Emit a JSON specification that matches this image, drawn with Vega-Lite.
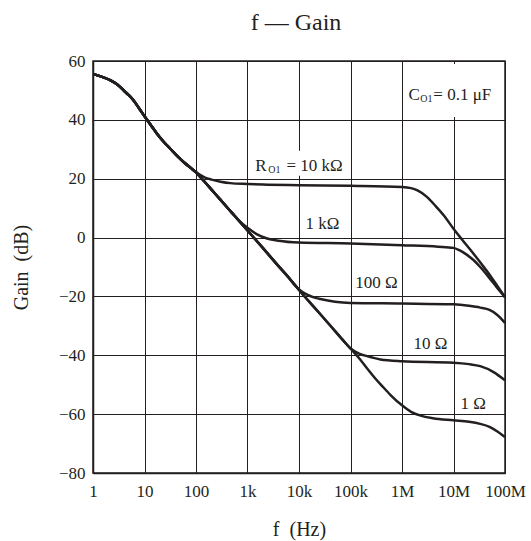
{
  "$schema": "https://vega.github.io/schema/vega-lite/v6.json",
  "width": 412,
  "height": 412,
  "autosize": {"type": "none"},
  "padding": {"left": 93, "top": 61, "right": 26, "bottom": 68},
  "background": "white",
  "config": {
    "view": {"stroke": "#231f20", "strokeWidth": 1.5},
    "font": "Liberation Serif",
    "axis": {
      "labelFont": "Liberation Serif",
      "titleFont": "Liberation Serif",
      "labelColor": "#231f20",
      "titleColor": "#231f20",
      "titleFontWeight": "normal",
      "grid": true,
      "gridColor": "#231f20",
      "gridOpacity": 1,
      "gridWidth": 1,
      "domainColor": "#231f20",
      "domainWidth": 1.5,
      "ticks": false,
      "tickSize": 0,
      "labelOverlap": false,
      "labelBound": false,
      "labelFlush": false
    }
  },
  "title": {
    "text": "f — Gain",
    "font": "Liberation Serif",
    "fontSize": 24,
    "fontWeight": "normal",
    "color": "#231f20",
    "offset": 17,
    "dx": -3
  },
  "encoding": {
    "x": {
      "field": "f",
      "type": "quantitative",
      "scale": {"type": "log", "domain": [1, 100000000], "nice": false},
      "axis": {
        "values": [1, 10, 100, 1000, 10000, 100000, 1000000, 10000000, 100000000],
        "labelExpr": "datum.value >= 1e6 ? (datum.value / 1e6) + 'M' : datum.value >= 1e3 ? (datum.value / 1e3) + 'k' : datum.value + ''",
        "labelFontSize": 17,
        "labelPadding": 10,
        "title": "f\u00a0\u00a0(Hz)",
        "titleFontSize": 20,
        "titlePadding": 20
      }
    },
    "y": {
      "field": "g",
      "type": "quantitative",
      "scale": {"domain": [-80, 60], "nice": false, "zero": false},
      "axis": {
        "values": [-80, -60, -40, -20, 0, 20, 40, 60],
        "labelFontSize": 17,
        "labelPadding": 8,
        "title": "Gain\u00a0\u00a0(dB)",
        "titleFontSize": 20,
        "titlePadding": 27
      }
    }
  },
  "layer": [
    {
      "data": {"values": [
        {"f": 1350, "f2": 70000, "g": 21, "g2": 29.5},
        {"f": 1300000, "f2": 90000000, "g": 41, "g2": 59}
      ]},
      "mark": {"type": "rect", "fill": "white", "stroke": null},
      "encoding": {"x2": {"field": "f2"}, "y2": {"field": "g2"}}
    },
    {
      "data": {"values": [
        {"s": "10k", "f": 1, "g": 55.6}, {"s": "10k", "f": 1.5, "g": 54.6}, {"s": "10k", "f": 2.2, "g": 53.4}, {"s": "10k", "f": 3, "g": 51.9}, {"s": "10k", "f": 4, "g": 49.9}, {"s": "10k", "f": 5, "g": 48.3}, {"s": "10k", "f": 6.2, "g": 46.5}, {"s": "10k", "f": 8, "g": 43.7}, {"s": "10k", "f": 10, "g": 41.2}, {"s": "10k", "f": 13, "g": 38.4}, {"s": "10k", "f": 17.5, "g": 35.3}, {"s": "10k", "f": 24, "g": 32.4}, {"s": "10k", "f": 32, "g": 30.1}, {"s": "10k", "f": 45, "g": 27.4}, {"s": "10k", "f": 58, "g": 25.6}, {"s": "10k", "f": 80, "g": 23.6}, {"s": "10k", "f": 100, "g": 22.2},
        {"s": "10k", "f": 120, "g": 21.3}, {"s": "10k", "f": 150, "g": 20.4}, {"s": "10k", "f": 200, "g": 19.7}, {"s": "10k", "f": 300, "g": 19.0}, {"s": "10k", "f": 464, "g": 18.5}, {"s": "10k", "f": 1000, "g": 18.2}, {"s": "10k", "f": 2000, "g": 18.0}, {"s": "10k", "f": 10000, "g": 17.8}, {"s": "10k", "f": 100000, "g": 17.6}, {"s": "10k", "f": 1000000, "g": 17.2}, {"s": "10k", "f": 1500000, "g": 16.8}, {"s": "10k", "f": 2000000, "g": 16.0}, {"s": "10k", "f": 3000000, "g": 13.9}, {"s": "10k", "f": 4500000, "g": 10.7}, {"s": "10k", "f": 6500000, "g": 7.5}, {"s": "10k", "f": 10000000, "g": 3.0}, {"s": "10k", "f": 15000000, "g": -0.9}, {"s": "10k", "f": 24500000, "g": -5.5}, {"s": "10k", "f": 35000000, "g": -9.0}, {"s": "10k", "f": 51000000, "g": -12.8}, {"s": "10k", "f": 70000000, "g": -16.3}, {"s": "10k", "f": 100000000, "g": -20.3},

        {"s": "1k", "f": 1, "g": 55.6}, {"s": "1k", "f": 1.5, "g": 54.6}, {"s": "1k", "f": 2.2, "g": 53.4}, {"s": "1k", "f": 3, "g": 51.9}, {"s": "1k", "f": 4, "g": 49.9}, {"s": "1k", "f": 5, "g": 48.3}, {"s": "1k", "f": 6.2, "g": 46.5}, {"s": "1k", "f": 8, "g": 43.7}, {"s": "1k", "f": 10, "g": 41.2}, {"s": "1k", "f": 13, "g": 38.4}, {"s": "1k", "f": 17.5, "g": 35.3}, {"s": "1k", "f": 24, "g": 32.4}, {"s": "1k", "f": 32, "g": 30.1}, {"s": "1k", "f": 45, "g": 27.4}, {"s": "1k", "f": 58, "g": 25.6}, {"s": "1k", "f": 80, "g": 23.6}, {"s": "1k", "f": 100, "g": 22.2},
        {"s": "1k", "f": 130, "g": 20.0}, {"s": "1k", "f": 200, "g": 16.3}, {"s": "1k", "f": 300, "g": 12.8}, {"s": "1k", "f": 500, "g": 8.4}, {"s": "1k", "f": 700, "g": 5.6}, {"s": "1k", "f": 1000, "g": 3.3}, {"s": "1k", "f": 1500, "g": 1.2}, {"s": "1k", "f": 2400, "g": -0.3}, {"s": "1k", "f": 4000, "g": -1.1}, {"s": "1k", "f": 10000, "g": -1.7}, {"s": "1k", "f": 100000, "g": -2.0}, {"s": "1k", "f": 1000000, "g": -2.6}, {"s": "1k", "f": 5000000, "g": -3.1}, {"s": "1k", "f": 10000000, "g": -3.5}, {"s": "1k", "f": 13000000, "g": -4.3}, {"s": "1k", "f": 18000000, "g": -5.8}, {"s": "1k", "f": 25000000, "g": -7.8}, {"s": "1k", "f": 33000000, "g": -10.0}, {"s": "1k", "f": 50000000, "g": -13.8}, {"s": "1k", "f": 70000000, "g": -17.0}, {"s": "1k", "f": 100000000, "g": -20.3},

        {"s": "100", "f": 1, "g": 55.6}, {"s": "100", "f": 1.5, "g": 54.6}, {"s": "100", "f": 2.2, "g": 53.4}, {"s": "100", "f": 3, "g": 51.9}, {"s": "100", "f": 4, "g": 49.9}, {"s": "100", "f": 5, "g": 48.3}, {"s": "100", "f": 6.2, "g": 46.5}, {"s": "100", "f": 8, "g": 43.7}, {"s": "100", "f": 10, "g": 41.2}, {"s": "100", "f": 13, "g": 38.4}, {"s": "100", "f": 17.5, "g": 35.3}, {"s": "100", "f": 24, "g": 32.4}, {"s": "100", "f": 32, "g": 30.1}, {"s": "100", "f": 45, "g": 27.4}, {"s": "100", "f": 58, "g": 25.6}, {"s": "100", "f": 80, "g": 23.6}, {"s": "100", "f": 100, "g": 22.2},
        {"s": "100", "f": 130, "g": 20.0}, {"s": "100", "f": 200, "g": 16.3}, {"s": "100", "f": 300, "g": 12.8}, {"s": "100", "f": 500, "g": 8.4}, {"s": "100", "f": 700, "g": 5.5}, {"s": "100", "f": 1000, "g": 2.4}, {"s": "100", "f": 2000, "g": -3.6}, {"s": "100", "f": 4000, "g": -9.7}, {"s": "100", "f": 6000, "g": -13.2}, {"s": "100", "f": 8000, "g": -15.9}, {"s": "100", "f": 10000, "g": -17.6}, {"s": "100", "f": 14000, "g": -19.3}, {"s": "100", "f": 20000, "g": -20.4}, {"s": "100", "f": 26000, "g": -20.9}, {"s": "100", "f": 50000, "g": -21.8}, {"s": "100", "f": 100000, "g": -22.2}, {"s": "100", "f": 1000000, "g": -22.4}, {"s": "100", "f": 10000000, "g": -22.7}, {"s": "100", "f": 20000000, "g": -23.2}, {"s": "100", "f": 33000000, "g": -23.8}, {"s": "100", "f": 50000000, "g": -24.6}, {"s": "100", "f": 70000000, "g": -26.2}, {"s": "100", "f": 100000000, "g": -29.0},

        {"s": "10", "f": 1, "g": 55.6}, {"s": "10", "f": 1.5, "g": 54.6}, {"s": "10", "f": 2.2, "g": 53.4}, {"s": "10", "f": 3, "g": 51.9}, {"s": "10", "f": 4, "g": 49.9}, {"s": "10", "f": 5, "g": 48.3}, {"s": "10", "f": 6.2, "g": 46.5}, {"s": "10", "f": 8, "g": 43.7}, {"s": "10", "f": 10, "g": 41.2}, {"s": "10", "f": 13, "g": 38.4}, {"s": "10", "f": 17.5, "g": 35.3}, {"s": "10", "f": 24, "g": 32.4}, {"s": "10", "f": 32, "g": 30.1}, {"s": "10", "f": 45, "g": 27.4}, {"s": "10", "f": 58, "g": 25.6}, {"s": "10", "f": 80, "g": 23.6}, {"s": "10", "f": 100, "g": 22.2},
        {"s": "10", "f": 130, "g": 20.0}, {"s": "10", "f": 200, "g": 16.3}, {"s": "10", "f": 300, "g": 12.8}, {"s": "10", "f": 500, "g": 8.4}, {"s": "10", "f": 700, "g": 5.5}, {"s": "10", "f": 1000, "g": 2.4}, {"s": "10", "f": 2000, "g": -3.6}, {"s": "10", "f": 4000, "g": -9.7}, {"s": "10", "f": 7000, "g": -14.5}, {"s": "10", "f": 10000, "g": -17.8}, {"s": "10", "f": 20000, "g": -23.8}, {"s": "10", "f": 40000, "g": -29.8}, {"s": "10", "f": 70000, "g": -34.7}, {"s": "10", "f": 100000, "g": -37.7}, {"s": "10", "f": 150000, "g": -39.5}, {"s": "10", "f": 210000, "g": -40.3}, {"s": "10", "f": 380000, "g": -41.4}, {"s": "10", "f": 1000000, "g": -42.0}, {"s": "10", "f": 10000000, "g": -42.5}, {"s": "10", "f": 20000000, "g": -43.0}, {"s": "10", "f": 33000000, "g": -43.7}, {"s": "10", "f": 60000000, "g": -45.7}, {"s": "10", "f": 100000000, "g": -48.5},

        {"s": "1", "f": 1, "g": 55.6}, {"s": "1", "f": 1.5, "g": 54.6}, {"s": "1", "f": 2.2, "g": 53.4}, {"s": "1", "f": 3, "g": 51.9}, {"s": "1", "f": 4, "g": 49.9}, {"s": "1", "f": 5, "g": 48.3}, {"s": "1", "f": 6.2, "g": 46.5}, {"s": "1", "f": 8, "g": 43.7}, {"s": "1", "f": 10, "g": 41.2}, {"s": "1", "f": 13, "g": 38.4}, {"s": "1", "f": 17.5, "g": 35.3}, {"s": "1", "f": 24, "g": 32.4}, {"s": "1", "f": 32, "g": 30.1}, {"s": "1", "f": 45, "g": 27.4}, {"s": "1", "f": 58, "g": 25.6}, {"s": "1", "f": 80, "g": 23.6}, {"s": "1", "f": 100, "g": 22.2},
        {"s": "1", "f": 130, "g": 20.0}, {"s": "1", "f": 200, "g": 16.3}, {"s": "1", "f": 300, "g": 12.8}, {"s": "1", "f": 500, "g": 8.4}, {"s": "1", "f": 700, "g": 5.5}, {"s": "1", "f": 1000, "g": 2.4}, {"s": "1", "f": 2000, "g": -3.6}, {"s": "1", "f": 4000, "g": -9.7}, {"s": "1", "f": 7000, "g": -14.5}, {"s": "1", "f": 10000, "g": -17.8}, {"s": "1", "f": 20000, "g": -23.8}, {"s": "1", "f": 40000, "g": -29.8}, {"s": "1", "f": 70000, "g": -34.7}, {"s": "1", "f": 100000, "g": -37.7}, {"s": "1", "f": 150000, "g": -41.2}, {"s": "1", "f": 200000, "g": -44.0}, {"s": "1", "f": 300000, "g": -47.8}, {"s": "1", "f": 400000, "g": -50.2}, {"s": "1", "f": 600000, "g": -53.5}, {"s": "1", "f": 1000000, "g": -57.0}, {"s": "1", "f": 1500000, "g": -59.2}, {"s": "1", "f": 2300000, "g": -60.5}, {"s": "1", "f": 4000000, "g": -61.4}, {"s": "1", "f": 10000000, "g": -62.1}, {"s": "1", "f": 20000000, "g": -62.6}, {"s": "1", "f": 33000000, "g": -63.3}, {"s": "1", "f": 50000000, "g": -64.3}, {"s": "1", "f": 70000000, "g": -65.8}, {"s": "1", "f": 100000000, "g": -67.8}
      ]},
      "mark": {"type": "line", "color": "#231f20", "strokeWidth": 2.5, "interpolate": "monotone", "clip": true},
      "encoding": {"detail": {"field": "s"}}
    },
    {
      "data": {"values": [
        {"t": "C", "f": 1340000, "g": 46.9},
        {"t": "= 0.1 μF", "f": 4060000, "g": 46.9},
        {"t": "R", "f": 1417, "g": 22.7},
        {"t": "= 10 kΩ", "f": 5690, "g": 22.7},
        {"t": "1 kΩ", "f": 13300, "g": 2.8},
        {"t": "100 Ω", "f": 124000, "g": -17.3},
        {"t": "10 Ω", "f": 1680000, "g": -38.0},
        {"t": "1 Ω", "f": 13600000, "g": -58.4}
      ]},
      "mark": {"type": "text", "align": "left", "baseline": "alphabetic", "font": "Liberation Serif", "fontSize": 17, "color": "#231f20"},
      "encoding": {"text": {"field": "t"}}
    },
    {
      "data": {"values": [
        {"t": "O1", "f": 2270000, "g": 46.9},
        {"t": "O1", "f": 2535, "g": 22.7}
      ]},
      "mark": {"type": "text", "align": "left", "baseline": "alphabetic", "font": "Liberation Serif", "fontSize": 10, "dy": 2.5, "color": "#231f20"},
      "encoding": {"text": {"field": "t"}}
    }
  ]
}
